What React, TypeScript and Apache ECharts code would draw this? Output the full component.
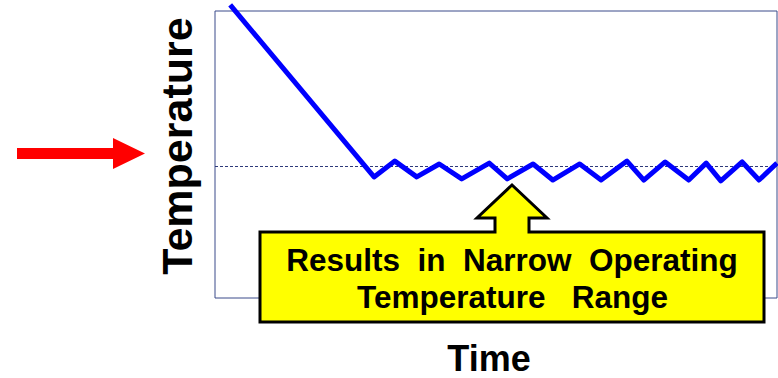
import React, { useEffect, useRef } from "react";
import * as echarts from "echarts";

// Chart data (abstract units: time 0–100 across the plot, temperature 0–100 up the plot)
const timeValues = [2.7, 28.3, 32.0, 35.9, 39.9, 43.9, 48.8, 52.0, 56.6, 60.1, 64.9, 68.7, 73.3, 76.3, 80.1, 84.3, 87.4, 90.0, 93.8, 96.8, 100];
const temperatureValues = [102.1, 42.2, 47.7, 42.2, 46.7, 41.5, 47.0, 41.5, 46.7, 41.1, 46.7, 41.1, 47.7, 41.1, 47.4, 41.1, 47.0, 40.8, 47.4, 41.1, 47.0];
const setPoint = 46;

const xAxisTitle = "Time";
const yAxisTitle = "Temperature";
const calloutLine1 = "Results  in  Narrow  Operating";
const calloutLine2 = "Temperature   Range";

const FONT = "'Liberation Sans', Arial, Helvetica, sans-serif";

export default function App() {
  const ref = useRef<HTMLDivElement>(null);

  useEffect(() => {
    if (!ref.current) return;
    const chart = echarts.init(ref.current, undefined, { renderer: "svg" });
    const data = timeValues.map((t, i) => [t, temperatureValues[i]]);

    chart.setOption({
      animation: false,
      backgroundColor: "#ffffff",
      grid: {
        left: 215,
        top: 11,
        right: 1,
        bottom: 80,
        show: true,
        borderColor: "#3a4a8a",
        borderWidth: 1,
        backgroundColor: "transparent",
      },
      xAxis: {
        type: "value",
        min: 0,
        max: 100,
        axisLine: { show: false },
        axisTick: { show: false },
        axisLabel: { show: false },
        splitLine: { show: false },
      },
      yAxis: {
        type: "value",
        min: 0,
        max: 100,
        axisLine: { show: false },
        axisTick: { show: false },
        axisLabel: { show: false },
        splitLine: { show: false },
      },
      series: [
        {
          type: "line",
          data,
          clip: false,
          symbol: "none",
          lineStyle: { color: "#0000ff", width: 5, join: "round" },
          markLine: {
            silent: true,
            symbol: "none",
            label: { show: false },
            lineStyle: { type: [3, 2], color: "#2e3a7a", width: 1 },
            data: [{ yAxis: setPoint }],
            z: 1,
          },
          z: 3,
        },
      ],
      graphic: [
        {
          type: "polygon",
          z: 100,
          shape: {
            points: [
              [17, 148],
              [113, 148],
              [113, 138],
              [145, 153.5],
              [113, 169],
              [113, 159],
              [17, 159],
            ],
          },
          style: { fill: "#ff0000" },
        },
        {
          type: "text",
          z: 100,
          x: 177,
          y: 146,
          rotation: Math.PI / 2,
          style: {
            text: yAxisTitle,
            font: `bold 43px ${FONT}`,
            fill: "#000000",
            align: "center",
            verticalAlign: "middle",
          },
        },
        {
          type: "text",
          z: 100,
          x: 489,
          y: 358,
          style: {
            text: xAxisTitle,
            font: `bold 36px ${FONT}`,
            fill: "#000000",
            align: "center",
            verticalAlign: "middle",
          },
        },
        {
          type: "polygon",
          z: 100,
          shape: {
            points: [
              [260, 232],
              [495, 232],
              [495, 218],
              [477, 218],
              [512, 185],
              [547, 218],
              [529, 218],
              [529, 232],
              [764, 232],
              [764, 322],
              [260, 322],
            ],
          },
          style: { fill: "#ffff00", stroke: "#000000", lineWidth: 3, lineJoin: "miter" },
        },
        {
          type: "text",
          z: 101,
          x: 512,
          y: 259.5,
          style: {
            text: calloutLine1,
            font: `bold 31.5px ${FONT}`,
            fill: "#000000",
            align: "center",
            verticalAlign: "middle",
          },
        },
        {
          type: "text",
          z: 101,
          x: 512.5,
          y: 296.5,
          style: {
            text: calloutLine2,
            font: `bold 31.5px ${FONT}`,
            fill: "#000000",
            align: "center",
            verticalAlign: "middle",
          },
        },
      ],
    });

    return () => chart.dispose();
  }, []);

  return (
    <div
      ref={ref}
      style={{ position: "fixed", left: 0, top: 0, width: 778, height: 378 }}
    />
  );
}
